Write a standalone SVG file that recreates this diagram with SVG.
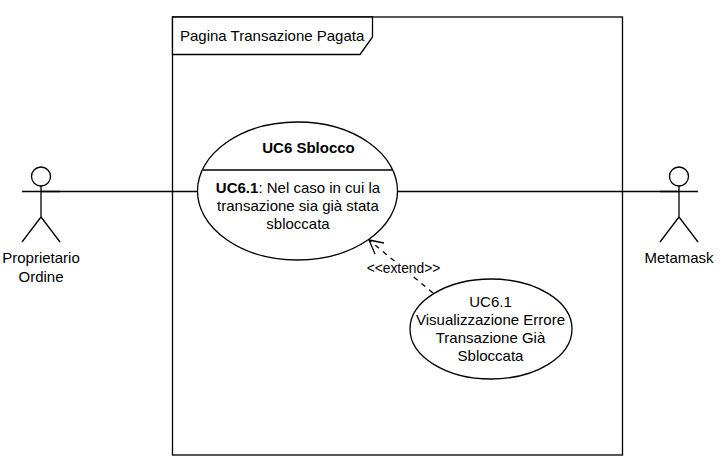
<svg xmlns="http://www.w3.org/2000/svg" width="724" height="469" viewBox="0 0 724 469">
<style>
.s{fill:none;stroke:#000;stroke-width:1.3}
.w{fill:#fff;stroke:#000;stroke-width:1.3}
text{font-family:"Liberation Sans",Arial,sans-serif;font-size:15px;fill:#000;text-anchor:middle}
.b{font-weight:bold}
</style>
<rect width="724" height="469" fill="#fff"/>
<g id="frame">
<rect class="s" x="172.500" y="17" width="450" height="438"/>
<path class="w" d="M172.500 17H372.500V37L360 54.500H172.500Z"/>
<text x="180" y="40.500" style="text-anchor:start">Pagina Transazione Pagata</text>
</g>
<g id="connectors">
<path class="s" d="M41 191.500H197"/>
<path class="s" d="M398 191.500H679"/>
<path class="s" stroke-dasharray="5 5" d="M433 293L369 240"/>
<path class="s" d="M384 243L369 240L375 254"/>
<rect x="367" y="262" width="74" height="13" fill="#fff"/>
<text x="403.500" y="273" style="font-size:13.800px">&lt;&lt;extend&gt;&gt;</text>
</g>
<g id="actor-proprietario">
<circle class="s" cx="41" cy="176.500" r="9.500"/>
<path class="s" d="M41 186V217M22 191.500H60M41 217L22 242M41 217L60 242"/>
<text x="41" y="263">Proprietario</text>
<text x="41" y="282">Ordine</text>
</g>
<g id="actor-metamask">
<circle class="s" cx="679" cy="176.500" r="9.500"/>
<path class="s" d="M679 186V217M660 191.500H698M679 217L660 242M679 217L698 242"/>
<text x="679" y="263">Metamask</text>
</g>
<g id="uc6">
<ellipse class="w" cx="297.500" cy="191" rx="100" ry="69"/>
<path class="s" d="M203 170H392.500"/>
<text x="308.500" y="153" class="b">UC6 Sblocco</text>
<text x="298" y="193"><tspan class="b">UC6.1</tspan>: Nel caso in cui la</text>
<text x="298" y="211">transazione sia già stata</text>
<text x="298" y="229">sbloccata</text>
</g>
<g id="uc61">
<ellipse class="w" cx="491" cy="329" rx="81" ry="50"/>
<text x="490.500" y="307">UC6.1</text>
<text x="490.500" y="325">Visualizzazione Errore</text>
<text x="490.500" y="343">Transazione Già</text>
<text x="490.500" y="361">Sbloccata</text>
</g>
</svg>
